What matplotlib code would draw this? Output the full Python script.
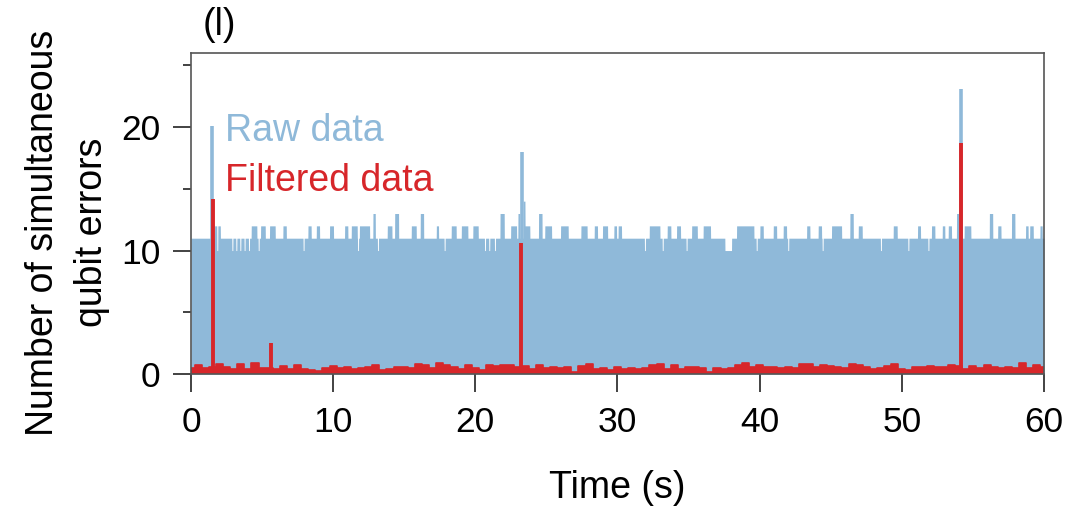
import numpy as np
import matplotlib
matplotlib.use("Agg")
from matplotlib import pyplot as plt

plt.rcParams['font.family'] = ['Liberation Sans', 'DejaVu Sans']

RAW_COLOR = "#8fb9d9"
FILT_COLOR = "#d7262a"

# raw data: baseline level, pulses above/below it (start s, end s, level)
raw_base = 11
raw_pulse_start = [1.66, 4.24, 4.90, 5.53, 6.47, 8.23, 8.82, 9.75, 10.81, 11.28, 11.85,
                   12.80, 13.81, 14.33, 15.50, 16.13, 17.26, 18.31, 19.02, 19.83,
                   21.74, 22.49, 23.00, 23.37, 23.50, 24.45, 24.89, 26.00, 27.43,
                   28.37, 28.95, 29.75, 30.05, 32.24, 33.50, 34.16, 35.22, 36.03,
                   37.56, 38.38, 40.02, 40.96, 41.66, 43.31, 44.12, 45.06, 46.35,
                   46.94, 49.40, 51.11, 52.09, 52.85, 53.27, 53.85, 54.39, 56.16,
                   56.75, 57.72, 58.71, 59.00, 59.72]
raw_pulse_end = [2.07, 4.64, 5.23, 5.93, 6.71, 8.46, 9.05, 10.03, 11.04, 11.70, 12.57,
                 12.97, 14.14, 14.61, 15.85, 16.37, 17.42, 18.66, 19.48, 20.21,
                 22.04, 22.91, 23.14, 23.50, 23.84, 24.70, 25.37, 26.54, 27.87,
                 28.60, 29.31, 29.94, 30.29, 32.99, 33.76, 34.44, 35.62, 36.55,
                 38.03, 39.60, 40.26, 41.20, 41.90, 43.54, 44.36, 45.77, 46.59,
                 47.22, 49.68, 51.32, 52.33, 53.03, 53.50, 54.02, 54.86, 56.40,
                 56.98, 57.96, 58.89, 59.25, 59.88]
raw_pulse_level = [12, 12, 12, 12, 12, 12, 12, 12, 12, 12, 12,
                   13, 12, 13, 12, 13, 12, 12, 12, 12,
                   13, 12, 13, 14, 12, 13, 12, 12, 12,
                   12, 12, 12, 12, 12, 12, 12, 12, 12,
                   10, 12, 12, 12, 12, 12, 12, 12, 13,
                   12, 12, 12, 12, 12, 12, 13, 12, 13,
                   12, 13, 12, 12, 12]
raw_dip_time = [1.85, 2.91, 3.19, 3.47, 3.77, 4.08, 4.76, 7.92, 11.75, 13.15, 17.84,
                20.68, 20.98, 21.38, 31.93, 33.18, 34.86, 39.79, 42.01, 44.43,
                48.53, 50.46, 51.87]
raw_dip_level = 10
raw_spike_time = [1.50, 23.25, 54.16]
raw_spike_value = [20.1, 18.0, 23.05]

# filtered data, one value every 0.5 s, plus narrow spikes
filt_values = [0.45, 0.7, 0.45, 0.6, 0.85, 0.6, 0.4, 0.8, 0.4, 0.9,
               0.45, 0.5, 0.4, 0.65, 0.4, 0.7, 0.4, 0.3, 0.25, 0.45,
               0.65, 0.45, 0.55, 0.4, 0.45, 0.55, 0.7, 0.3, 0.4, 0.6,
               0.55, 0.45, 0.8, 0.7, 0.45, 0.9, 0.7, 0.55, 0.4, 0.7,
               0.5, 0.3, 0.7, 0.65, 0.7, 0.7, 0.55, 0.65, 0.4, 0.7,
               0.45, 0.6, 0.45, 0.6, 0.2, 0.65, 0.85, 0.4, 0.45, 0.3,
               0.6, 0.4, 0.45, 0.4, 0.45, 0.7, 0.8, 0.4, 0.7, 0.4,
               0.6, 0.55, 0.45, 0.2, 0.45, 0.4, 0.45, 0.7, 0.9, 0.6,
               0.7, 0.55, 0.6, 0.45, 0.55, 0.45, 0.85, 0.8, 0.6, 0.7,
               0.65, 0.55, 0.45, 0.85, 0.7, 0.55, 0.4, 0.45, 0.65, 0.8,
               0.4, 0.3, 0.55, 0.6, 0.65, 0.6, 0.55, 0.7, 0.65, 0.4,
               0.65, 0.45, 0.7, 0.55, 0.45, 0.55, 0.45, 0.9, 0.45, 0.7,
               0.6]
filt_spike_time = [1.52, 5.60, 23.22, 54.16]
filt_spike_value = [14.2, 2.5, 10.6, 18.7]

x_ticks = [0, 10, 20, 30, 40, 50, 60]
y_ticks = [0, 10, 20]
y_minor = [5, 15, 25]

# build raw envelope on a fine grid
t = np.arange(0, 60.0001, 0.01)
env = np.full(t.shape, float(raw_base))
for s, e, lev in zip(raw_pulse_start, raw_pulse_end, raw_pulse_level):
    env[(t >= s) & (t < e)] = lev
for d in raw_dip_time:
    env[np.abs(t - d) < 0.035] = raw_dip_level

filt_t = np.arange(len(filt_values)) * 0.5

fig = plt.figure(figsize=(10.7, 5.09), dpi=100)
ax = fig.add_axes([0.1785, 0.2652, 0.7972, 0.6307])

ax.fill_between(t, 0, env, color=RAW_COLOR, lw=0, zorder=1)
ax.vlines(raw_spike_time, 0, raw_spike_value, color=RAW_COLOR, lw=2.6, zorder=1.5)
ax.fill_between(filt_t, 0, filt_values, step='mid', color=FILT_COLOR, lw=0, zorder=2)
ax.plot(filt_t, filt_values, drawstyle='steps-mid', color=FILT_COLOR, lw=1.2, zorder=2)
ax.vlines(filt_spike_time, 0, filt_spike_value, color=FILT_COLOR, lw=2.8, zorder=2.2)

ax.set_xlim(0, 60)
ax.set_ylim(0, 26)
ax.set_xticks(x_ticks)
ax.set_yticks(y_ticks)
ax.set_yticks(y_minor, minor=True)
ax.tick_params(axis='both', which='major', length=13, width=1.2, labelsize=25.5,
               color='#222222')
ax.tick_params(axis='x', which='major', pad=10)
ax.tick_params(axis='y', which='major', pad=9)
ax.tick_params(axis='y', which='minor', length=6, width=1.2, color='#222222')
for sp in ax.spines.values():
    sp.set_color('#555555')
    sp.set_linewidth(1.2)

ax.text(2.4, 19.7, "Raw data", color=RAW_COLOR, fontsize=27, va='center', ha='left')
ax.text(2.4, 15.6, "Filtered data", color=FILT_COLOR, fontsize=27, va='center', ha='left')

ax.set_xlabel("Time (s)", fontsize=27, labelpad=22)
ax.set_ylabel("Number of simultaneous\nqubit errors", fontsize=27, linespacing=1.45)
ax.yaxis.set_label_coords(-0.095, 0.44)
ax.text(0.014, 1.03, "(l)", transform=ax.transAxes, fontsize=27, ha='left', va='bottom')

fig.savefig("out.png", dpi=100)
